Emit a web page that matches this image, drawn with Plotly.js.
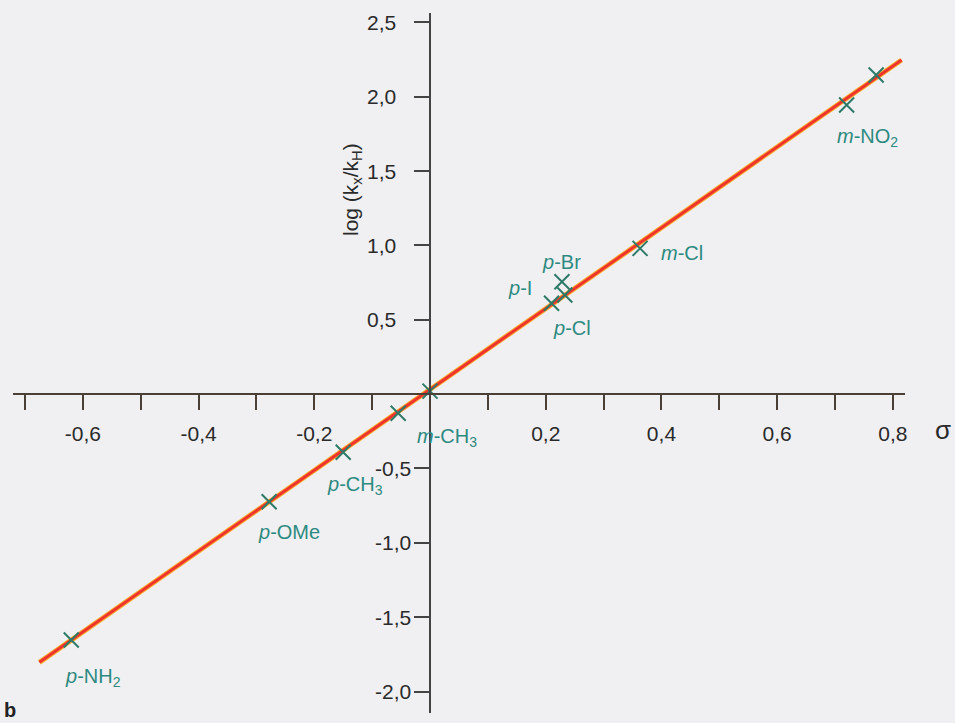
<!DOCTYPE html>
<html>
<head>
<meta charset="utf-8">
<script src="https://cdn.plot.ly/plotly-3.0.1.min.js"></script>
<style>html,body{margin:0;padding:0;background:#f0f0f3;}#chart{width:955px;height:723px;}</style>
</head>
<body>
<div id="chart"></div>
<script>
// ---- data ----
const substituents = ["p-NH2", "p-OMe", "p-CH3", "m-CH3", "H", "p-I", "p-Cl", "p-Br", "m-Cl", "m-NO2", "p-NO2"];
const sigma        = [-0.620, -0.278, -0.150, -0.055, 0.000, 0.210, 0.233, 0.228, 0.363, 0.720, 0.771];
const logRatio     = [-1.654, -0.724, -0.391, -0.129, 0.020, 0.611, 0.666, 0.756, 0.980, 1.944, 2.146];
const pointLabels  = ["<i>p</i>-NH<sub>2</sub>", "<i>p</i>-OMe", "<i>p</i>-CH<sub>3</sub>", "<i>m</i>-CH<sub>3</sub>", "", "<i>p</i>-I", "<i>p</i>-Cl", "<i>p</i>-Br", "<i>m</i>-Cl", "<i>m</i>-NO<sub>2</sub>", ""];
const fitSigma     = [-0.675, 0.815];
const fitLog       = [-1.804, 2.247];
const xTickVals    = [-0.6, -0.4, -0.2, 0.2, 0.4, 0.6, 0.8];
const xTickText    = ["-0,6", "-0,4", "-0,2", "0,2", "0,4", "0,6", "0,8"];
const yTickVals    = [2.5, 2.0, 1.5, 1.0, 0.5, -0.5, -1.0, -1.5, -2.0];
const yTickText    = ["2,5", "2,0", "1,5", "1,0", "0,5", "-0,5", "-1,0", "-1,5", "-2,0"];

// ---- style (label offsets in pixels) ----
const labelShift = {
  "p-NH2": [22, -37], "p-OMe": [20, -30], "p-CH3": [12, -33], "m-CH3": [49, -24],
  "p-I": [-32, 15], "p-Cl": [7, -33], "p-Br": [0, 20], "m-Cl": [42, -5], "m-NO2": [21, -32]
};
const FONT = "Liberation Sans, Arial, sans-serif";
const labelColor = "#2c8a80";
const markColor = "#2e7a68";
const axisTextColor = "#2a2a2a";

const traces = [
  {x: fitSigma, y: fitLog, mode: "lines", line: {color: "#f8b030", width: 5}, hoverinfo: "skip", cliponaxis: false},
  {x: fitSigma, y: fitLog, mode: "lines", line: {color: "#ee342c", width: 3}, hoverinfo: "skip", cliponaxis: false},
  {x: sigma, y: logRatio, mode: "markers", text: substituents,
   marker: {symbol: "x-thin", size: 15, line: {color: markColor, width: 2}}, cliponaxis: false}
];

const annotations = [];
substituents.forEach((s, i) => {
  if (!pointLabels[i]) return;
  const sh = labelShift[s];
  annotations.push({x: sigma[i], y: logRatio[i], xref: "x", yref: "y", text: pointLabels[i],
    showarrow: false, xshift: sh[0], yshift: sh[1], xanchor: "center", yanchor: "middle",
    font: {family: FONT, size: 20, color: labelColor}});
});
yTickVals.forEach((v, i) => {
  annotations.push({x: v > 0 ? 398/955 : 413/955, xref: "paper", y: v, yref: "y", text: yTickText[i],
    showarrow: false, xanchor: "right", yanchor: "middle",
    font: {family: FONT, size: 21, color: axisTextColor}});
});
annotations.push({x: 352/955, xref: "paper", y: 1 - 190/723, yref: "paper", yanchor: "middle", xanchor: "center",
  text: "log (k<sub>x</sub>/k<sub>H</sub>)", textangle: -90, showarrow: false,
  font: {family: FONT, size: 21, color: axisTextColor}});
annotations.push({x: 943/955, xref: "paper", y: 1 - 430/723, yref: "paper", text: "σ", showarrow: false,
  xanchor: "center", yanchor: "middle", font: {family: FONT, size: 26, color: axisTextColor}});
annotations.push({x: 10/955, xref: "paper", y: 1 - 710/723, yref: "paper", text: "<b>b</b>", showarrow: false,
  xanchor: "center", yanchor: "middle", font: {family: FONT, size: 20, color: "#222"}});

const layout = {
  width: 955, height: 723,
  margin: {l: 0, r: 0, t: 0, b: 0, pad: 0},
  paper_bgcolor: "#f0f0f3", plot_bgcolor: "rgba(0,0,0,0)",
  showlegend: false,
  xaxis: {
    domain: [12.7/955, 905/955], range: [-0.7212, 0.8209],
    anchor: "free", position: (723 - 394.1)/723,
    showgrid: false, zeroline: false, showline: true, linecolor: "#4a4038", linewidth: 2,
    ticks: "outside", ticklen: 15, tickwidth: 2, tickcolor: "#4a4038",
    tickmode: "array", tickvals: xTickVals, ticktext: xTickText,
    minor: {ticks: "outside", ticklen: 15, tickwidth: 2, tickcolor: "#4a4038", tick0: 0, dtick: 0.1, showgrid: false},
    tickfont: {family: FONT, size: 21, color: axisTextColor}, ticklabelstandoff: 6,
    fixedrange: true
  },
  yaxis: {
    domain: [10/723, (723 - 12.7)/723], range: [-2.1446, 2.5649],
    anchor: "free", position: 430/955,
    showgrid: false, zeroline: false, showline: true, linecolor: "#444444", linewidth: 2,
    ticks: "outside", ticklen: 15, tickwidth: 2, tickcolor: "#444444",
    tickmode: "array", tickvals: yTickVals, showticklabels: false,
    fixedrange: true
  },
  annotations: annotations
};

Plotly.newPlot("chart", traces, layout, {displayModeBar: false, staticPlot: true});
</script>
</body>
</html>
